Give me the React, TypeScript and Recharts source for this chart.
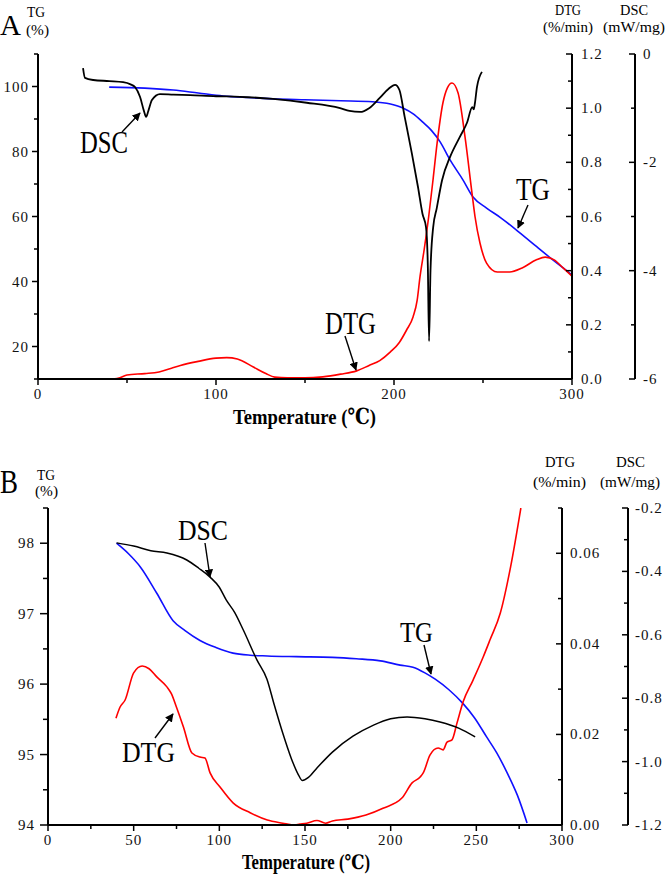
import React from 'react';
import { LineChart, Line, XAxis, YAxis } from 'recharts';

// ---------- Panel A ----------
const A_TG_T = [40, 60, 76, 90, 104, 118, 132, 150, 170, 188, 198, 205, 211, 216, 221, 226, 231.5, 238.8, 244.4, 252, 260, 270, 280, 288, 295, 300];
const A_TG = [99.8, 99.5, 98.9, 98.0, 97.1, 96.6, 96.2, 95.9, 95.6, 95.3, 94.6, 93.4, 91.5, 89.1, 86.5, 82.9, 77.4, 71.2, 66, 62.6, 59.6, 55.3, 50.8, 47.2, 44.2, 42];

const A_DTG_T = [42, 46, 50, 60, 68, 75, 80, 90, 100, 106, 112, 121, 128, 133, 140, 150, 160, 170, 179, 186, 192, 198, 203, 207, 210.7, 213, 214.6, 217, 219.5, 222, 224.2, 227.5, 230, 232.6, 236, 239.9, 243.8, 245.5, 248.3, 252, 258, 265, 272, 280, 285, 290, 295, 300];
const A_DTG = [0, 0.005, 0.015, 0.02, 0.026, 0.04, 0.05, 0.065, 0.077, 0.079, 0.074, 0.044, 0.02, 0.007, 0.004, 0.004, 0.008, 0.018, 0.03, 0.05, 0.068, 0.1, 0.135, 0.18, 0.229, 0.29, 0.377, 0.48, 0.6, 0.74, 0.87, 1.02, 1.075, 1.093, 1.056, 0.894, 0.687, 0.6, 0.502, 0.428, 0.395, 0.395, 0.41, 0.44, 0.45, 0.44, 0.41, 0.38];

const A_DSC_T = [25.3, 26.4, 31, 40, 47.8, 52, 54.5, 57.3, 59.5, 60.7, 62, 64, 68.5, 76, 85.4, 100, 113.5, 132, 151, 169.7, 175, 181, 186, 192, 197, 200.6, 203, 206, 210, 213.5, 216, 218, 219, 219.7, 220.5, 222, 224, 227, 231.5, 237, 241, 244, 244.8, 245.5, 246.6, 249.4];
const A_DSC = [-0.26, -0.44, -0.48, -0.5, -0.52, -0.56, -0.61, -0.79, -1.05, -1.16, -1.05, -0.85, -0.74, -0.75, -0.76, -0.78, -0.79, -0.83, -0.9, -1.0, -1.05, -1.07, -1.0, -0.81, -0.64, -0.57, -0.66, -1.16, -1.83, -2.46, -2.95, -3.2, -3.9, -5.3, -4.0, -3.2, -2.85, -2.33, -1.9, -1.53, -1.27, -0.98, -1.02, -0.9, -0.61, -0.33];

const A_X_TICKS = [0, 50, 100, 150, 200, 250, 300];
const A_X_LABELS = [0, 100, 200, 300];
const A_TG_TICKS = [10, 20, 30, 40, 50, 60, 70, 80, 90, 100, 110];
const A_TG_LABELS = [20, 40, 60, 80, 100];
const A_DTG_TICKS = [0, 0.1, 0.2, 0.3, 0.4, 0.5, 0.6, 0.7, 0.8, 0.9, 1.0, 1.1, 1.2];
const A_DTG_LABELS = [0, 0.2, 0.4, 0.6, 0.8, 1.0, 1.2];
const A_DSC_TICKS = [-6, -5, -4, -3, -2, -1, 0];
const A_DSC_LABELS = [-6, -4, -2, 0];

// ---------- Panel B ----------
const B_TG_T = [40, 47, 54, 63.5, 73, 80, 88.7, 98, 108, 118, 128, 145, 166, 180, 194, 205.5, 213, 220, 226, 234, 242, 249, 256, 262, 268, 274, 279.6];
const B_TG = [98.0, 97.85, 97.66, 97.29, 96.9, 96.76, 96.62, 96.52, 96.44, 96.41, 96.4, 96.39, 96.38, 96.36, 96.33, 96.27, 96.24, 96.16, 96.07, 95.92, 95.73, 95.52, 95.25, 95.02, 94.74, 94.42, 94.03];

const B_DTG_T = [39.7, 42, 45, 50, 55, 59, 63.5, 69.4, 72, 75, 79, 84, 88.7, 91.6, 94.6, 100.4, 108, 118, 128, 137, 143, 147, 151, 157, 162, 166, 175, 185.6, 195.5, 206.7, 212.5, 217.2, 219, 223, 227.7, 230.6, 232.9, 235.8, 238.7, 242.3, 248.1, 254, 258, 264, 270, 276];
const B_DTG = [0.0236, 0.026, 0.0276, 0.0336, 0.0351, 0.0345, 0.0327, 0.0305, 0.029, 0.026, 0.0217, 0.0159, 0.015, 0.0148, 0.0115, 0.0084, 0.0049, 0.0027, 0.0011, 0.0004, 0, 0.0002, 0.0004, 0.001, 0.0004, 0.0009, 0.0013, 0.0022, 0.0037, 0.006, 0.0093, 0.0106, 0.0115, 0.0155, 0.017, 0.0166, 0.0183, 0.0188, 0.0225, 0.0272, 0.032, 0.0371, 0.0409, 0.0468, 0.057, 0.07];

const B_DSC_T = [40, 50, 60, 69.4, 81, 88, 94.6, 100, 104, 109, 114, 122, 127.8, 132, 137, 142, 146, 148.5, 152, 157, 166, 178, 190, 200, 209.6, 220, 228.8, 240, 249.3];
const B_DSC = [-0.31, -0.32, -0.335, -0.342, -0.364, -0.39, -0.418, -0.45, -0.49, -0.53, -0.585, -0.68, -0.74, -0.82, -0.91, -0.99, -1.04, -1.06, -1.05, -1.02, -0.97, -0.92, -0.885, -0.865, -0.859, -0.865, -0.875, -0.895, -0.922];

const B_X_TICKS = [0, 25, 50, 75, 100, 125, 150, 175, 200, 225, 250, 275, 300];
const B_X_LABELS = [0, 50, 100, 150, 200, 250, 300];
const B_TG_TICKS = [94, 94.5, 95, 95.5, 96, 96.5, 97, 97.5, 98, 98.5];
const B_TG_LABELS = [94, 95, 96, 97, 98];
const B_DTG_TICKS = [0, 0.01, 0.02, 0.03, 0.04, 0.05, 0.06, 0.07];
const B_DTG_LABELS = [0, 0.02, 0.04, 0.06];
const B_DSC_TICKS = [-1.2, -1.1, -1.0, -0.9, -0.8, -0.7, -0.6, -0.5, -0.4, -0.3, -0.2];
const B_DSC_LABELS = [-1.2, -1.0, -0.8, -0.6, -0.4, -0.2];

const pts = (ts: number[], vs: number[]) => ts.map((t, i) => ({ t, v: vs[i] }));

const SERIF = '"Liberation Serif", "DejaVu Serif", serif';
const BLUE = '#1010ff';
const RED = '#ff0000';

// custom tick: left/bottom ticks point outward, right-axis ticks point inward (to the left)
const AxisTick = (p: any) => {
  const { x, y, payload, side, labels, digits, long = 6, short = 4, pad = 3 } = p;
  const v = payload.value as number;
  const lab = labels.some((l: number) => Math.abs(l - v) < 1e-9);
  const len = lab ? long : short;
  const txt = lab ? (digits != null ? v.toFixed(digits) : String(v)) : '';
  const font = { fontFamily: SERIF, fontSize: 15, letterSpacing: 1, fill: '#111' };
  if (side === 'bottom') {
    return (
      <g>
        <line x1={x} y1={y} x2={x} y2={y + len} stroke="#000" strokeWidth={1.5} />
        {txt && <text x={x} y={y + 20} textAnchor="middle" {...font}>{txt}</text>}
      </g>
    );
  }
  if (side === 'left') {
    return (
      <g>
        <line x1={x - len} y1={y} x2={x} y2={y} stroke="#000" strokeWidth={1.5} />
        {txt && <text x={x - len - pad} y={y + 5} textAnchor="end" {...font}>{txt}</text>}
      </g>
    );
  }
  return (
    <g>
      <line x1={x - len} y1={y} x2={x} y2={y} stroke="#000" strokeWidth={1.5} />
      {txt && <text x={x + pad} y={y + 5} textAnchor="start" {...font}>{txt}</text>}
    </g>
  );
};

const axisLine = { stroke: '#000', strokeWidth: 2 };

const T = (props: any) => (
  <text fontFamily={SERIF} fill="#000" lengthAdjust="spacingAndGlyphs" {...props} />
);

const Arrow = ({ x1, y1, x2, y2 }: any) => (
  <line x1={x1} y1={y1} x2={x2} y2={y2} stroke="#000" strokeWidth={1.4} markerEnd="url(#ah)" />
);

// right axes: "r1" (DTG) sits next to the plot, "r2" (DSC) outside it
export default function App() {
  return (
    <div style={{ position: 'absolute', left: 0, top: 0, width: 666, height: 875, background: '#fff' }}>
      <div style={{ position: 'absolute', left: 0, top: 0 }}>
        <LineChart width={666} height={429} margin={{ top: 54, right: 0, bottom: 0, left: 0 }}>
          <XAxis type="number" dataKey="t" domain={[0, 300]} ticks={A_X_TICKS} interval={0} allowDataOverflow
            height={50} axisLine={axisLine} tickLine={false} tickSize={0} tickMargin={0}
            tick={(p: any) => <AxisTick {...p} side="bottom" labels={A_X_LABELS} />} />
          <YAxis yAxisId="l1" orientation="left" type="number" domain={[10, 110]} ticks={A_TG_TICKS} interval={0} allowDataOverflow
            width={38} axisLine={axisLine} tickLine={false} tickSize={0} tickMargin={0}
            tick={(p: any) => <AxisTick {...p} side="left" labels={A_TG_LABELS} />} />
          <YAxis yAxisId="r1" orientation="right" type="number" domain={[0, 1.2]} ticks={A_DTG_TICKS} interval={0} allowDataOverflow
            width={63} axisLine={axisLine} tickLine={false} tickSize={0} tickMargin={0}
            tick={(p: any) => <AxisTick {...p} side="right" labels={A_DTG_LABELS} digits={1} pad={9} />} />
          <YAxis yAxisId="r2" orientation="right" type="number" domain={[-6, 0]} ticks={A_DSC_TICKS} interval={0} allowDataOverflow
            width={31} axisLine={axisLine} tickLine={false} tickSize={0} tickMargin={0}
            tick={(p: any) => <AxisTick {...p} side="right" labels={A_DSC_LABELS} pad={8} />} />
          <Line yAxisId="l1" data={pts(A_TG_T, A_TG)} dataKey="v" type="monotone" stroke={BLUE} strokeWidth={1.6} dot={false} isAnimationActive={false} />
          <Line yAxisId="r1" data={pts(A_DTG_T, A_DTG)} dataKey="v" type="monotone" stroke={RED} strokeWidth={1.6} dot={false} isAnimationActive={false} />
          <Line yAxisId="r2" data={pts(A_DSC_T, A_DSC)} dataKey="v" type="monotone" stroke="#000" strokeWidth={1.8} dot={false} isAnimationActive={false} />
        </LineChart>
      </div>

      <div style={{ position: 'absolute', left: 0, top: 440 }}>
        <LineChart width={666} height={435} margin={{ top: 68, right: 0, bottom: 0, left: 0 }}>
          <XAxis type="number" dataKey="t" domain={[0, 300]} ticks={B_X_TICKS} interval={0} allowDataOverflow
            height={50} axisLine={axisLine} tickLine={false} tickSize={0} tickMargin={0}
            tick={(p: any) => <AxisTick {...p} side="bottom" labels={B_X_LABELS} />} />
          <YAxis yAxisId="l1" orientation="left" type="number" domain={[94, 98.5]} ticks={B_TG_TICKS} interval={0} allowDataOverflow
            width={48} axisLine={axisLine} tickLine={false} tickSize={0} tickMargin={0}
            tick={(p: any) => <AxisTick {...p} side="left" labels={B_TG_LABELS} long={8} short={5} pad={5} />} />
          <YAxis yAxisId="r1" orientation="right" type="number" domain={[0, 0.07]} ticks={B_DTG_TICKS} interval={0} allowDataOverflow
            width={66} axisLine={axisLine} tickLine={false} tickSize={0} tickMargin={0}
            tick={(p: any) => <AxisTick {...p} side="right" labels={B_DTG_LABELS} digits={2} pad={8} />} />
          <YAxis yAxisId="r2" orientation="right" type="number" domain={[-1.2, -0.2]} ticks={B_DSC_TICKS} interval={0} allowDataOverflow
            width={38} axisLine={axisLine} tickLine={false} tickSize={0} tickMargin={0}
            tick={(p: any) => <AxisTick {...p} side="right" labels={B_DSC_LABELS} digits={1} pad={7} />} />
          <Line yAxisId="l1" data={pts(B_TG_T, B_TG)} dataKey="v" type="monotone" stroke={BLUE} strokeWidth={1.6} dot={false} isAnimationActive={false} />
          <Line yAxisId="r1" data={pts(B_DTG_T, B_DTG)} dataKey="v" type="monotone" stroke={RED} strokeWidth={1.6} dot={false} isAnimationActive={false} />
          <Line yAxisId="r2" data={pts(B_DSC_T, B_DSC)} dataKey="v" type="monotone" stroke="#000" strokeWidth={1.5} dot={false} isAnimationActive={false} />
        </LineChart>
      </div>

      <svg width={666} height={875} style={{ position: 'absolute', left: 0, top: 0, pointerEvents: 'none' }}>
        <defs>
          <marker id="ah" viewBox="0 0 10 10" refX="9" refY="5" markerWidth="6" markerHeight="6" orient="auto">
            <path d="M0,0 L10,5 L0,10 z" fill="#000" />
          </marker>
        </defs>

        {/* panel A labels */}
        <T x={0} y={35} fontSize={30} textLength={21}>A</T>
        <T x={27} y={17} fontSize={14} textLength={18}>TG</T>
        <T x={26} y={35} fontSize={15} textLength={23}>(%)</T>
        <T x={555} y={15} fontSize={15} textLength={26}>DTG</T>
        <T x={543} y={32} fontSize={15} textLength={50}>(%/min)</T>
        <T x={620} y={15} fontSize={15} textLength={28}>DSC</T>
        <T x={603} y={32} fontSize={15} textLength={62}>(mW/mg)</T>
        <T x={233} y={424} fontSize={22} fontWeight="bold" textLength={143}>Temperature (℃)</T>

        <T x={80} y={153} fontSize={31} textLength={48}>DSC</T>
        <Arrow x1={122} y1={132} x2={140} y2={113} />
        <T x={516} y={200} fontSize={31} textLength={34}>TG</T>
        <Arrow x1={528} y1={205} x2={518} y2={228} />
        <T x={325} y={334} fontSize={31} textLength={51}>DTG</T>
        <Arrow x1={345} y1={336} x2={356} y2={370} />

        {/* panel B labels */}
        <T x={0} y={493} fontSize={34} textLength={18}>B</T>
        <T x={37} y={480} fontSize={14} textLength={18}>TG</T>
        <T x={35} y={496} fontSize={15} textLength={23}>(%)</T>
        <T x={545} y={467} fontSize={15} textLength={30}>DTG</T>
        <T x={533} y={487} fontSize={15} textLength={53}>(%/min)</T>
        <T x={616} y={467} fontSize={15} textLength={29}>DSC</T>
        <T x={600} y={487} fontSize={15} textLength={60}>(mW/mg)</T>
        <T x={242} y={869} fontSize={20} fontWeight="bold" textLength={128}>Temperature (℃)</T>

        <T x={178} y={540} fontSize={30} textLength={50}>DSC</T>
        <Arrow x1={205} y1={543} x2={210} y2={577} />
        <T x={400} y={642} fontSize={30} textLength={33}>TG</T>
        <Arrow x1={424} y1={645} x2={431} y2={674} />
        <T x={122} y={762} fontSize={30} textLength={53}>DTG</T>
        <Arrow x1={155} y1={738} x2={173} y2={714} />
      </svg>
    </div>
  );
}
